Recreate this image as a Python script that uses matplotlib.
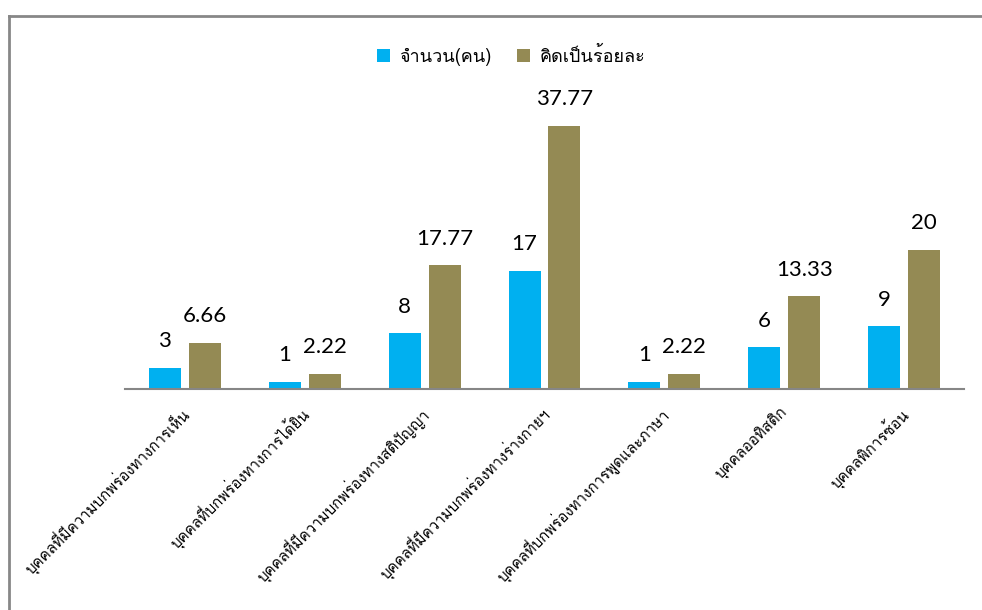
import numpy as np
import matplotlib
matplotlib.use("Agg")
import matplotlib.pyplot as plt
import matplotlib.transforms as mtransforms
from matplotlib import font_manager as fm
from matplotlib.ft2font import FT2Font
from matplotlib.lines import Line2D

# ---- data ----
categories = [
    "บุคคลที่มีความบกพร่องทางการเห็น",
    "บุคคลที่บกพร่องทางการได้ยิน",
    "บุคคลที่มีความบกพร่องทางสติปัญญา",
    "บุคคลที่มีความบกพร่องทางร่างกายฯ",
    "บุคคลที่บกพร่องทางการพูดและภาษา",
    "บุคคลออทิสติก",
    "บุคคลพิการซ้อน",
]
counts = [3, 1, 8, 17, 1, 6, 9]
percents = [6.66, 2.22, 17.77, 37.77, 2.22, 13.33, 20]
count_labels = ["3", "1", "8", "17", "1", "6", "9"]
percent_labels = ["6.66", "2.22", "17.77", "37.77", "2.22", "13.33", "20"]
series_names = ["จำนวน(คน)", "คิดเป็นร้อยละ"]

# ---- find a Thai-capable font ----
thai_font = None
seen = set()
for f in fm.fontManager.ttflist:
    if f.fname in seen:
        continue
    seen.add(f.fname)
    try:
        cm = FT2Font(f.fname).get_charmap()
        if 0x0E01 in cm and 0x0E35 in cm and 0x0E1A in cm:
            thai_font = f.name
            break
    except Exception:
        pass
fams = ([thai_font] if thai_font else []) + ["DejaVu Sans"]
plt.rcParams['font.family'] = fams

W, H = 982, 610
fig = plt.figure(figsize=(W / 100, H / 100), dpi=100)

# axes: baseline y=389, x from 125 to 964
x0, x1 = 125, 964
ytop_px, ybot_px = 70, 389
ax = fig.add_axes([x0 / W, 1 - ybot_px / H, (x1 - x0) / W, (ybot_px - ytop_px) / H])
px_per_unit = (389 - 126) / 37.77
ax.set_ylim(0, (ybot_px - ytop_px) / px_per_unit)
ax.set_xlim(-0.5, len(categories) - 0.5)

blue = "#00B0F0"
olive = "#948A54"
bw = 32 / ((x1 - x0) / 7)
off = 20 / ((x1 - x0) / 7)
x = np.arange(len(categories))
b1 = ax.bar(x - off, counts, width=bw, color=blue, label=series_names[0])
b2 = ax.bar(x + off, percents, width=bw, color=olive, label=series_names[1])

lab_font = ["Lato", "DejaVu Sans"]
for xi, v, t in zip(x, counts, count_labels):
    ax.annotate(t, (xi - off, v), xytext=(0, 12), textcoords="offset points",
                ha="center", va="bottom", fontsize=16, family=lab_font, color="#000000")
for xi, v, t in zip(x, percents, percent_labels):
    ax.annotate(t, (xi + off, v), xytext=(0, 12), textcoords="offset points",
                ha="center", va="bottom", fontsize=16, family=lab_font, color="#000000")

for s in ["top", "right", "left"]:
    ax.spines[s].set_visible(False)
ax.spines["bottom"].set_color("#868686")
ax.spines["bottom"].set_linewidth(1.5)
ax.set_yticks([])
ax.set_xticks(x)
ax.set_xticklabels(categories, rotation=45, ha="right", va="top",
                   rotation_mode="anchor", fontsize=10.8)
ax.tick_params(axis="x", length=0, pad=8)
shift = mtransforms.ScaledTranslation(-5 / 100, -4 / 100, fig.dpi_scale_trans)
for lbl in ax.get_xticklabels():
    lbl.set_transform(lbl.get_transform() + shift)

leg = fig.legend(handles=[b1, b2], loc="center", bbox_to_anchor=(511 / W, 1 - 56 / H),
                 ncol=2, frameon=False, fontsize=13, handlelength=0.75, handleheight=0.75,
                 columnspacing=1.4, handletextpad=0.5)

# outer chart border (left and top)
fig.add_artist(Line2D([8.5 / W, 8.5 / W], [0, 1 - 15.5 / H], color="#878787", lw=2,
                      transform=fig.transFigure))
fig.add_artist(Line2D([8.5 / W, 1], [1 - 15.5 / H, 1 - 15.5 / H], color="#878787", lw=2,
                      transform=fig.transFigure))

fig.savefig("out.png", dpi=100)
